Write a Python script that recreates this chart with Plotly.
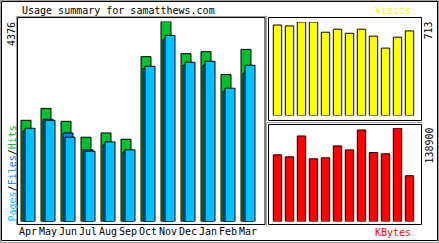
import plotly.graph_objects as go

months = ["Apr", "May", "Jun", "Jul", "Aug", "Sep", "Oct", "Nov", "Dec", "Jan", "Feb", "Mar"]
hits = [2214, 2475, 2192, 1844, 1938, 1800, 3607, 4376, 3673, 3716, 3216, 3766]
files = [1981, 2236, 1938, 1568, 1676, 1524, 3353, 3984, 3418, 3418, 2852, 3244]
pages = [2040, 2214, 1844, 1539, 1742, 1568, 3396, 4071, 3483, 3505, 2917, 3418]
visits = [690, 683, 713, 713, 635, 658, 627, 658, 605, 514, 597, 645]
kbytes = [99005, 96050, 127080, 93094, 94570, 112306, 106394, 135945, 102400, 100480, 138900, 67974]

W, H = 439, 243
FONT = "DejaVu Sans Mono"


def px(x):
    return x / W


def py(y):
    return 1 - y / H


C_HITS = "#00C030"
C_FILES = "#0080FF"
C_PAGES = "#00C0FF"
C_VISITS = "#FFFF00"
C_KB = "#FF0000"

fig = go.Figure()
line = dict(color="black", width=1)
fig.add_trace(go.Bar(x=months, y=hits, offset=-0.35, width=0.5, marker=dict(color=C_HITS, line=line),
                     xaxis="x", yaxis="y"))
fig.add_trace(go.Bar(x=months, y=files, offset=-0.25, width=0.5, marker=dict(color=C_FILES, line=line),
                     xaxis="x", yaxis="y"))
fig.add_trace(go.Bar(x=months, y=pages, offset=-0.15, width=0.5, marker=dict(color=C_PAGES, line=line),
                     xaxis="x", yaxis="y"))
fig.add_trace(go.Bar(x=months, y=visits, width=0.7, marker=dict(color=C_VISITS, line=line),
                     xaxis="x2", yaxis="y2"))
fig.add_trace(go.Bar(x=months, y=kbytes, width=0.7, marker=dict(color=C_KB, line=line),
                     xaxis="x3", yaxis="y3"))

hidden = dict(showgrid=False, zeroline=False, showline=False, showticklabels=False, ticks="")

shapes = []


def rect(x0, y0, x1, y1, color="black", w=1):
    shapes.append(dict(type="rect", xref="paper", yref="paper", x0=px(x0), x1=px(x1), y0=py(y0), y1=py(y1),
                       line=dict(color=color, width=w), fillcolor="rgba(0,0,0,0)", layer="above"))


def seg(x0, y0, x1, y1, color="black", w=1):
    shapes.append(dict(type="line", xref="paper", yref="paper", x0=px(x0), x1=px(x1), y0=py(y0), y1=py(y1),
                       line=dict(color=color, width=w), layer="above"))


# outer frame
seg(0, 0.5, 439, 0.5, "#A0A0A0")
seg(0.5, 0, 0.5, 243, "#A0A0A0")
rect(1.5, 1.5, 437.5, 240.5)
seg(0, 242.5, 439, 242.5, "#A0A0A0")
seg(438.5, 0, 438.5, 243, "#A0A0A0")
# main panel
seg(16.5, 16.5, 16.5, 225, "#A0A0A0")
seg(16.5, 16.5, 266, 16.5, "#A0A0A0")
rect(17.5, 17.5, 265, 224.5)
# right top panel
seg(266.5, 15.5, 266.5, 121, "#A0A0A0")
rect(268.5, 17.5, 421.5, 120.5)
# right bottom panel
seg(266.5, 122.5, 422, 122.5, "#A0A0A0")
seg(266.5, 122.5, 266.5, 225, "#A0A0A0")
rect(268.5, 124.5, 421.5, 224.5)

ann = []


def text(s, x, y, color="black", xanchor="center", angle=0):
    ann.append(dict(text=s, x=px(x), y=py(y), xref="paper", yref="paper", showarrow=False,
                    xanchor=xanchor, yanchor="middle", textangle=angle,
                    font=dict(family=FONT, size=10, color=color)))


text("Usage summary for samatthews.com", 20, 10.5, xanchor="left")
text("Visits", 413, 10.5, C_VISITS, xanchor="right")
text("KBytes", 413, 232, C_KB, xanchor="right")
text(str(max(hits)), 11, 34, angle=-90)
text(str(max(visits)), 428, 30.5, angle=-90)
text(str(max(kbytes)), 428.5, 146, angle=-90)
text("<span style='color:%s'>Pages</span>/<span style='color:%s'>Files</span>/<span style='color:%s'>Hits</span>"
     % (C_PAGES, C_FILES, C_HITS), 11.5, 174, angle=-90)

fig.update_layout(
    width=W, height=H, margin=dict(l=0, r=0, t=0, b=0),
    paper_bgcolor="white", plot_bgcolor="rgba(0,0,0,0)",
    showlegend=False, barmode="overlay",
    xaxis=dict(domain=[px(17), px(265)], range=[-0.55, 11.85], type="category", showgrid=False,
               zeroline=False, showline=False, ticks="", tickangle=0,
               tickfont=dict(family=FONT, size=10, color="black"),
               anchor="y", ticklabelstandoff=2),
    yaxis=dict(domain=[py(221.5), py(21.5)], range=[0, max(hits)], anchor="x", **hidden),
    xaxis2=dict(domain=[px(269), px(421)], range=[-0.708, 11.958], type="category", anchor="y2", **hidden),
    yaxis2=dict(domain=[py(115.5), py(22)], range=[0, max(visits)], anchor="x2", **hidden),
    xaxis3=dict(domain=[px(269), px(421)], range=[-0.708, 11.958], type="category", anchor="y3", **hidden),
    yaxis3=dict(domain=[py(221.5), py(128)], range=[0, max(kbytes)], anchor="x3", **hidden),
    shapes=shapes, annotations=ann,
)

fig.write_html("out.html")
